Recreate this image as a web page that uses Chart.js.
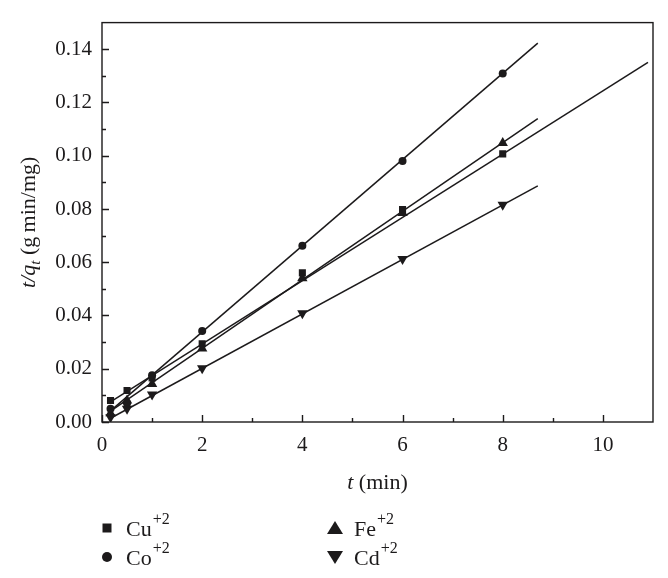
<!DOCTYPE html>
<html>
<head>
<meta charset="utf-8">
<script src="https://cdn.jsdelivr.net/npm/chart.js@4.4.0/dist/chart.umd.min.js"></script>
<style>
  html, body { margin: 0; padding: 0; background: #fff; }
  #wrap { width: 668px; height: 578px; }
</style>
</head>
<body>
<div id="wrap"><canvas id="kineticsChart" width="668" height="578"></canvas></div>
<script>
// measured points (t in min, t/qt in g min/mg)
const timeMin = [0.17, 0.5, 1, 2, 4, 6, 8];
const cuValues = [0.0081, 0.0118, 0.0165, 0.0294, 0.0560, 0.0798, 0.1007];
const coValues = [0.0050, 0.0070, 0.0176, 0.0342, 0.0662, 0.0980, 0.1309];
const feValues = [0.0033, 0.0081, 0.0143, 0.0276, 0.0540, 0.0785, 0.1048];
const cdValues = [0.0018, 0.0050, 0.0103, 0.0202, 0.0408, 0.0612, 0.0816];

// fitted lines, start and end
const fitX = [0.17, 8.7];
const cuFitX = [0.17, 10.9];
const cuFit = [0.0076, 0.1351];
const coFit = [0.0042, 0.1423];
const feFit = [0.0041, 0.1139];
const cdFit = [0.0014, 0.0887];

// axes
const xMajor = [0, 2, 4, 6, 8, 10];
const xMinor = [1, 3, 5, 7, 9];
const yMajor = [0, 0.02, 0.04, 0.06, 0.08, 0.10, 0.12, 0.14];
const yMinor = [0.01, 0.03, 0.05, 0.07, 0.09, 0.11, 0.13];

const legendNames = ['Cu', 'Co', 'Fe', 'Cd'];
const ionCharge = '+2';

const INK = '#1c1a1b';
const SERIF = '"Liberation Serif", "Times New Roman", serif';

function pts(xs, ys) {
    return xs.map((v, i) => ({ x: v, y: ys[i] }));
}

function fitLine(xs, ys) {
    return {
        data: pts(xs, ys),
        showLine: true,
        pointRadius: 0,
        borderColor: INK,
        borderWidth: 1.5,
        order: 2
    };
}

function markers(ys, style, radius, rotation) {
    return {
        data: pts(timeMin, ys),
        showLine: false,
        pointStyle: style,
        pointRadius: radius,
        pointRotation: rotation || 0,
        pointBackgroundColor: INK,
        pointBorderColor: INK,
        pointBorderWidth: 0,
        order: 1
    };
}

function drawMarker(ctx, style, cx, cy) {
    ctx.beginPath();
    if (style === 'rect') {
        ctx.rect(cx - 4.5, cy - 4.5, 9, 9);
    } else if (style === 'circle') {
        ctx.arc(cx, cy, 5, 0, Math.PI * 2);
    } else if (style === 'up') {
        ctx.moveTo(cx, cy - 7);
        ctx.lineTo(cx + 8, cy + 6);
        ctx.lineTo(cx - 8, cy + 6);
    } else {
        ctx.moveTo(cx, cy + 7);
        ctx.lineTo(cx + 8, cy - 6);
        ctx.lineTo(cx - 8, cy - 6);
    }
    ctx.closePath();
    ctx.fill();
}

const frameAndTicks = {
    id: 'frameAndTicks',
    afterDraw(chart) {
        const { ctx, chartArea: a, scales: { x, y } } = chart;
        ctx.save();
        ctx.strokeStyle = INK;
        ctx.lineWidth = 1.4;
        ctx.strokeRect(a.left, a.top, a.right - a.left, a.bottom - a.top);
        ctx.beginPath();
        xMajor.forEach(v => {
            const px = Math.round(x.getPixelForValue(v)) + 0.5;
            ctx.moveTo(px, a.bottom); ctx.lineTo(px, a.bottom - 7);
        });
        xMinor.forEach(v => {
            const px = Math.round(x.getPixelForValue(v)) + 0.5;
            ctx.moveTo(px, a.bottom); ctx.lineTo(px, a.bottom - 4);
        });
        yMajor.forEach(v => {
            const py = Math.round(y.getPixelForValue(v)) + 0.5;
            ctx.moveTo(a.left, py); ctx.lineTo(a.left + 7, py);
        });
        yMinor.forEach(v => {
            const py = Math.round(y.getPixelForValue(v)) + 0.5;
            ctx.moveTo(a.left, py); ctx.lineTo(a.left + 4, py);
        });
        ctx.stroke();
        ctx.restore();
    }
};

const titlesAndLegend = {
    id: 'titlesAndLegend',
    afterDraw(chart) {
        const { ctx, chartArea: a } = chart;
        ctx.save();
        ctx.fillStyle = INK;
        ctx.textBaseline = 'alphabetic';
        ctx.textAlign = 'left';

        // x title: t (min)
        const xParts = [['italic 22px ' + SERIF, 't', 0], ['22px ' + SERIF, ' (min)', 0]];
        drawParts(ctx, xParts, (a.left + a.right) / 2, 489);

        // y title: t/q_t (g min/mg)
        ctx.save();
        ctx.translate(35, (a.top + a.bottom) / 2);
        ctx.rotate(-Math.PI / 2);
        const yParts = [
            ['italic 22px ' + SERIF, 't/q', 0],
            ['italic 15px ' + SERIF, 't', 5],
            ['22px ' + SERIF, ' (g\u2009min/mg)', 0]
        ];
        drawParts(ctx, yParts, 0, 0);
        ctx.restore();

        // legend, two columns
        const styles = ['rect', 'circle', 'up', 'down'];
        const colX = [107, 335];
        const rowY = [528, 557];
        legendNames.forEach((name, i) => {
            const col = Math.floor(i / 2), row = i % 2;
            drawMarker(ctx, styles[i], colX[col], rowY[row]);
            ctx.font = '22px ' + SERIF;
            const tx = colX[col] + 19;
            const base = rowY[row] + 8;
            ctx.fillText(name, tx, base);
            const w = ctx.measureText(name).width;
            ctx.font = '16px ' + SERIF;
            ctx.fillText(ionCharge, tx + w + 1, base - 12);
        });
        ctx.restore();
    }
};

function drawParts(ctx, parts, cx, baseY) {
    let total = 0;
    parts.forEach(p => { ctx.font = p[0]; total += ctx.measureText(p[1]).width; });
    let px = cx - total / 2;
    parts.forEach(p => {
        ctx.font = p[0];
        ctx.fillText(p[1], px, baseY + p[2]);
        px += ctx.measureText(p[1]).width;
    });
}

const ctx = document.getElementById('kineticsChart').getContext('2d');

new Chart(ctx, {
    type: 'scatter',
    data: {
        datasets: [
            markers(cuValues, 'rect', 5),
            markers(coValues, 'circle', 4),
            markers(feValues, 'triangle', 6),
            markers(cdValues, 'triangle', 6, 180),
            fitLine(cuFitX, cuFit),
            fitLine(fitX, coFit),
            fitLine(fitX, feFit),
            fitLine(fitX, cdFit)
        ]
    },
    options: {
        responsive: false,
        animation: false,
        devicePixelRatio: 1,
        layout: { padding: { left: 0, top: 14, right: 15, bottom: 0 } },
        plugins: {
            legend: { display: false },
            tooltip: { enabled: false }
        },
        scales: {
            x: {
                type: 'linear',
                min: 0,
                max: 11,
                grid: { display: false, drawTicks: false },
                border: { display: false },
                ticks: {
                    color: INK,
                    padding: 11,
                    font: { family: SERIF, size: 21 },
                    callback: v => String(v)
                },
                afterBuildTicks: s => { s.ticks = xMajor.map(v => ({ value: v })); },
                afterFit: s => { s.height = 156; }
            },
            y: {
                min: 0,
                max: 0.15,
                grid: { display: false, drawTicks: false },
                border: { display: false },
                ticks: {
                    color: INK,
                    padding: 10,
                    font: { family: SERIF, size: 21 },
                    callback: v => v.toFixed(2)
                },
                afterBuildTicks: s => { s.ticks = yMajor.map(v => ({ value: v })); },
                afterFit: s => { s.width = 102; }
            }
        }
    },
    plugins: [frameAndTicks, titlesAndLegend]
});
</script>
</body>
</html>
